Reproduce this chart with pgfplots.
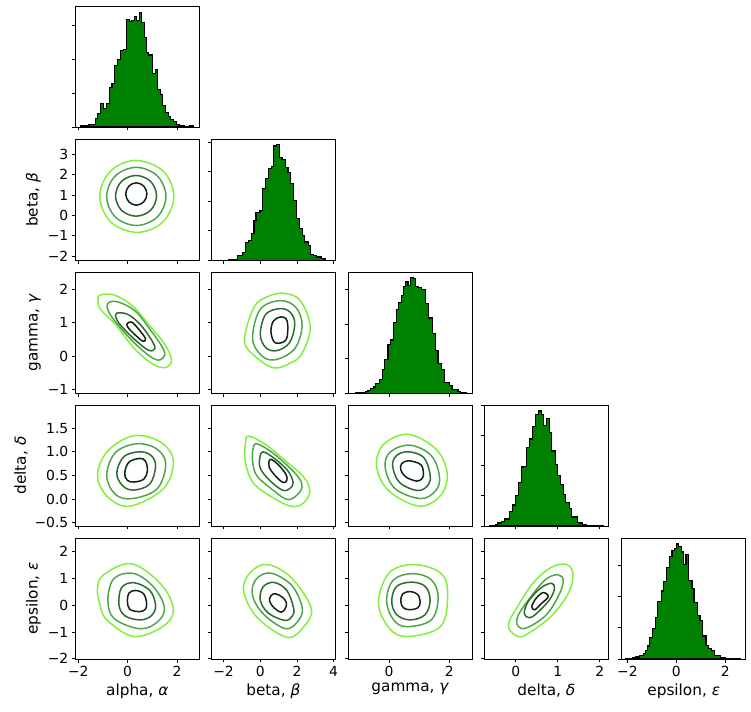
\documentclass[border=0pt]{standalone}
\usepackage{fontspec}
\setmainfont{DejaVu Sans}
\usepackage{pgfplots}
\pgfplotsset{compat=1.18}
\definecolor{hgreen}{HTML}{008000}
\definecolor{cA}{HTML}{80F03C}
\definecolor{cB}{HTML}{4EA64A}
\definecolor{cC}{HTML}{2E6B2E}
\definecolor{cD}{HTML}{0D240D}
\pgfplotsset{
 corner/.style={scale only axis,width=124pt,height=121pt,anchor=north west,
   axis line style={line width=0.9pt},
   tick align=outside, major tick length=3.5pt,
   every tick/.append style={line width=0.9pt,black},
   tick pos=left,
   xticklabels={}, yticklabels={},
   tick label style={font=\fontsize{13.9}{16}\selectfont},
   label style={font=\fontsize{15.3}{18}\selectfont},
 },
 hist/.style={const plot, fill=hgreen, draw=black, line width=1.2pt},
 c1/.style={smooth cycle, tension=0.6, color=cA, line width=1.5pt},
 c2/.style={smooth cycle, tension=0.6, color=cB, line width=1.5pt},
 c3/.style={smooth cycle, tension=0.6, color=cC, line width=1.5pt},
 c4/.style={smooth cycle, tension=0.6, color=cD, line width=1.5pt},
 xA/.style={xmin=-2.12,xmax=2.9,xtick={-2,0,2}},
 xB/.style={xmin=-2.67,xmax=4.09,xtick={-2,0,2,4}},
 xG/.style={xmin=-1.35,xmax=2.76,xtick={0,2}},
 xD/.style={xmin=-0.75,xmax=2.2,xtick={0,1,2}},
 xE/.style={xmin=-2.23,xmax=2.83,xtick={-2,0,2}},
 yB/.style={ymin=-2.21,ymax=3.74,ytick={-2,-1,0,1,2,3}},
 yG/.style={ymin=-1.12,ymax=2.51,ytick={-1,0,1,2}},
 yD/.style={ymin=-0.57,ymax=1.99,ytick={-0.5,0,0.5,1,1.5}},
 yE/.style={ymin=-2.01,ymax=2.51,ytick={-2,-1,0,1,2}},
}
\begin{document}
\begin{tikzpicture}
\path[use as bounding box] (0,0) rectangle (751pt,711pt);
% ---------- row 1
\begin{axis}[corner,at={(75.3pt,705pt)},xA,ymin=0,ymax=3.56,ytick={0,1,2,3}]
\addplot[hist] coordinates {(-1.891,0.04) (-1.568,0.08) (-1.298,0.245) (-1.217,0.40) (-1.110,0.70) (-0.975,0.55) (-0.854,0.70) (-0.733,1.16) (-0.638,1.28) (-0.517,1.81) (-0.409,1.99) (-0.302,2.26) (-0.167,2.28) (-0.046,3.17) (0.062,3.11) (0.156,3.13) (0.264,3.25) (0.372,3.14) (0.480,3.37) (0.560,3.07) (0.668,2.63) (0.762,2.19) (0.857,2.12) (0.991,1.57) (1.113,1.68) (1.220,1.11) (1.328,0.96) (1.422,0.64) (1.530,0.42) (1.638,0.30) (1.745,0.23) (1.853,0.15) (1.961,0.08) (2.082,0.05) (2.311,0) (2.500,0.03) (2.661,0.03)} \closedcycle;
\end{axis}
% ---------- row 2
\begin{axis}[corner,at={(75.3pt,571.7pt)},xA,yB,yticklabels={−2,−1,0,1,2,3},ylabel={beta, \textit{β}}]
\addplot[c1] coordinates {(1.87,0.93) (1.43,2.18) (0.32,2.70) (-0.69,2.18) (-1.13,0.95) (-0.69,-0.32) (0.39,-0.84) (1.43,-0.32)};
\addplot[c2] coordinates {(1.55,0.93) (1.20,1.94) (0.35,2.36) (-0.50,1.94) (-0.85,0.93) (-0.50,-0.08) (0.35,-0.50) (1.20,-0.08)};
\addplot[c3] coordinates {(1.17,0.96) (0.93,1.67) (0.34,1.96) (-0.25,1.67) (-0.49,0.96) (-0.25,0.25) (0.34,-0.04) (0.93,0.25)};
\addplot[c4] coordinates {(0.78,1.05) (0.65,1.44) (0.35,1.60) (0.05,1.44) (-0.08,1.05) (0.05,0.66) (0.35,0.50) (0.65,0.66)};
\end{axis}
\begin{axis}[corner,at={(211.3pt,571.7pt)},xB,ymin=0,ymax=4.1,ytick={0,1,2,3,4}]
\addplot[hist] coordinates {(-1.735,0.03) (-1.224,0.15) (-0.968,0.26) (-0.785,0.59) (-0.639,0.66) (-0.493,0.92) (-0.347,1.36) (-0.238,1.62) (-0.018,1.70) (0.128,2.44) (0.274,2.78) (0.457,3.12) (0.603,3.17) (0.712,3.87) (0.895,3.91) (1.041,3.47) (1.187,3.41) (1.370,3.15) (1.516,2.98) (1.662,2.59) (1.808,2.02) (1.991,1.42) (2.137,1.08) (2.283,0.85) (2.429,0.62) (2.612,0.49) (2.758,0.20) (2.904,0.15) (3.050,0.11) (3.342,0.06) (3.525,0.06)} \closedcycle;
\end{axis}
% ---------- row 3
\begin{axis}[corner,at={(75.3pt,438.7pt)},xA,yG,yticklabels={−1,0,1,2},ylabel={gamma, \textit{γ}}]
\addplot[c1] coordinates {(-1.10,1.83) (-0.55,1.83) (0.20,1.50) (0.90,0.90) (1.50,0.35) (1.77,-0.10) (1.60,-0.33) (1.10,-0.28) (0.30,0.20) (-0.50,0.95) (-1.10,1.40) (-1.20,1.70)};
\addplot[c2] coordinates {(-0.80,1.58) (-0.40,1.62) (0.30,1.35) (0.95,0.75) (1.45,0.20) (1.45,-0.05) (1.10,-0.10) (0.40,0.30) (-0.30,0.85) (-0.75,1.30)};
\addplot[c3] coordinates {(-0.45,1.28) (0.00,1.25) (0.50,0.95) (0.95,0.50) (1.10,0.22) (0.85,0.17) (0.35,0.45) (-0.20,0.85) (-0.45,1.10)};
\addplot[c4] coordinates {(-0.03,0.95) (0.15,1.02) (0.45,0.80) (0.72,0.52) (0.62,0.44) (0.35,0.60) (0.05,0.82)};
\end{axis}
\begin{axis}[corner,at={(211.3pt,438.7pt)},xB,yG]
\addplot[c1] coordinates {(2.72,0.85) (2.20,1.65) (1.30,1.88) (0.40,1.78) (-0.35,1.45) (-0.86,0.45) (-0.20,-0.05) (0.75,-0.36) (1.60,-0.22) (2.25,0.05)};
\addplot[c2] coordinates {(2.28,0.90) (1.95,1.45) (1.10,1.66) (0.0,1.40) (-0.42,0.55) (0.0,0.05) (0.75,-0.12) (1.85,0.20)};
\addplot[c3] coordinates {(1.88,0.95) (1.65,1.30) (1.10,1.42) (0.30,1.25) (0.0,0.65) (0.30,0.25) (0.90,0.16) (1.60,0.40)};
\addplot[c4] coordinates {(1.50,0.90) (1.40,1.12) (1.10,1.17) (0.72,1.05) (0.58,0.75) (0.72,0.45) (1.00,0.38) (1.42,0.50)};
\end{axis}
\begin{axis}[corner,at={(348.3pt,438.7pt)},xG,ymin=0,ymax=3.49,ytick={0,1,2,3}]
\addplot[hist] coordinates {(-1.094,0.03) (-0.873,0.03) (-0.784,0.06) (-0.696,0.09) (-0.608,0.13) (-0.519,0.18) (-0.453,0.28) (-0.320,0.40) (-0.210,0.69) (-0.144,0.98) (-0.033,1.40) (0.055,1.54) (0.144,2.04) (0.254,2.42) (0.321,2.63) (0.409,2.81) (0.475,3.08) (0.542,3.21) (0.630,3.12) (0.718,3.33) (0.807,3.31) (0.873,3.07) (0.961,3.04) (1.072,3.00) (1.205,2.59) (1.315,2.17) (1.448,1.72) (1.536,1.24) (1.624,0.86) (1.735,0.69) (1.845,0.30) (2.000,0.23) (2.089,0.12) (2.287,0.06) (2.376,0.03) (2.575,0.03)} \closedcycle;
\end{axis}
% ---------- row 4
\begin{axis}[corner,at={(75.3pt,306pt)},xA,yD,yticklabels={−0.5,0.0,0.5,1.0,1.5},ylabel={delta, \textit{δ}}]
\addplot[c1] coordinates {(1.85,0.80) (1.35,1.20) (0.25,1.34) (-0.80,1.02) (-1.22,0.50) (-0.80,0.04) (0.10,-0.15) (1.45,0.22)};
\addplot[c2] coordinates {(1.54,0.75) (1.15,1.07) (0.35,1.17) (-0.50,0.98) (-0.85,0.50) (-0.50,0.10) (0.20,0.01) (1.20,0.22)};
\addplot[c3] coordinates {(1.13,0.70) (0.95,0.92) (0.50,1.00) (-0.15,0.90) (-0.44,0.55) (-0.20,0.28) (0.25,0.19) (0.90,0.32)};
\addplot[c4] coordinates {(0.80,0.60) (0.72,0.80) (0.50,0.86) (0.05,0.78) (-0.12,0.55) (-0.02,0.40) (0.25,0.36) (0.65,0.42)};
\end{axis}
\begin{axis}[corner,at={(211.3pt,306pt)},xB,yD]
\addplot[c1] coordinates {(-0.62,1.33) (0.30,1.15) (1.40,0.80) (2.40,0.45) (2.70,0.15) (2.30,-0.10) (1.64,-0.15) (0.60,0.05) (-0.40,0.35) (-0.82,0.80) (-0.80,1.20)};
\addplot[c2] coordinates {(-0.20,1.17) (0.60,1.00) (1.50,0.70) (2.10,0.45) (2.28,0.25) (1.90,0.05) (1.40,0.00) (0.50,0.25) (-0.20,0.50) (-0.42,0.80) (-0.40,1.05)};
\addplot[c3] coordinates {(0.15,1.00) (0.80,0.85) (1.50,0.60) (1.79,0.35) (1.60,0.22) (1.20,0.19) (0.50,0.40) (0.00,0.65) (-0.02,0.88)};
\addplot[c4] coordinates {(0.55,0.84) (1.00,0.72) (1.40,0.52) (1.45,0.40) (1.25,0.35) (0.85,0.48) (0.48,0.68)};
\end{axis}
\begin{axis}[corner,at={(348.3pt,306pt)},xG,yD]
\addplot[c1] coordinates {(1.93,0.52) (1.58,1.04) (0.64,1.37) (-0.19,1.15) (-0.41,0.68) (0.0,0.17) (1.00,-0.15) (1.70,0.07)};
\addplot[c2] coordinates {(1.67,0.48) (1.40,0.92) (0.70,1.14) (0.05,1.00) (-0.13,0.68) (0.20,0.22) (1.05,0.01) (1.55,0.18)};
\addplot[c3] coordinates {(1.36,0.52) (1.15,0.88) (0.64,1.00) (0.25,0.92) (0.12,0.70) (0.35,0.35) (0.95,0.18) (1.30,0.30)};
\addplot[c4] coordinates {(1.14,0.55) (1.05,0.73) (0.65,0.81) (0.42,0.75) (0.39,0.62) (0.55,0.47) (0.92,0.38) (1.10,0.44)};
\end{axis}
\begin{axis}[corner,at={(484.3pt,306pt)},xD,ymin=0,ymax=4.02,ytick={0,1,2,3,4}]
\addplot[hist] coordinates {(-0.619,0.02) (-0.492,0.055) (-0.429,0.10) (-0.349,0.14) (-0.270,0.23) (-0.143,0.48) (-0.079,0.70) (-0.016,1.01) (0.063,1.45) (0.127,1.96) (0.190,1.98) (0.254,2.60) (0.317,2.89) (0.397,3.31) (0.460,3.71) (0.540,3.82) (0.603,3.71) (0.667,3.33) (0.730,3.58) (0.794,3.11) (0.857,2.49) (0.936,2.03) (1.000,1.69) (1.063,1.38) (1.127,1.05) (1.190,0.79) (1.270,0.59) (1.333,0.30) (1.460,0.12) (1.524,0.10) (1.587,0.055) (1.667,0.02) (1.746,0) (1.857,0.02) (1.921,0) (2.016,0.02) (2.079,0.02)} \closedcycle;
\end{axis}
% ---------- row 5
\begin{axis}[corner,at={(75.3pt,173pt)},xA,yE,xticklabels={−2,0,2},yticklabels={−2,−1,0,1,2},xlabel={alpha, \textit{α}},ylabel={epsilon, \textit{ε}}]
\addplot[c1] coordinates {(1.85,-0.14) (1.33,0.80) (0.15,1.55) (-0.95,1.15) (-1.22,0.65) (-1.12,0.0) (-0.82,-0.57) (0.26,-1.17) (1.45,-0.78)};
\addplot[c2] coordinates {(1.49,-0.10) (1.06,0.67) (0.26,1.18) (-0.55,1.00) (-0.80,0.20) (-0.55,-0.50) (0.50,-0.88) (1.20,-0.63)};
\addplot[c3] coordinates {(1.13,-0.02) (0.90,0.55) (0.25,0.84) (-0.25,0.65) (-0.35,0.0) (-0.10,-0.40) (0.50,-0.55) (0.95,-0.40)};
\addplot[c4] coordinates {(0.77,0.05) (0.65,0.42) (0.32,0.55) (0.05,0.45) (-0.01,0.15) (0.08,-0.15) (0.45,-0.24) (0.70,-0.17)};
\end{axis}
\begin{axis}[corner,at={(211.3pt,173pt)},xB,yE,xticklabels={−2,0,2,4},xlabel={beta, \textit{β}}]
\addplot[c1] coordinates {(2.78,-0.12) (1.70,1.02) (0.40,1.52) (-0.55,1.22) (-0.91,0.55) (-0.18,-0.45) (1.45,-1.20) (2.35,-0.82)};
\addplot[c2] coordinates {(2.28,-0.07) (1.70,0.75) (0.55,1.20) (-0.25,0.95) (-0.42,0.35) (0.20,-0.35) (1.40,-0.88) (2.10,-0.55)};
\addplot[c3] coordinates {(1.82,-0.12) (1.45,0.55) (0.75,0.85) (0.15,0.68) (0.0,0.18) (0.45,-0.30) (1.35,-0.57) (1.75,-0.40)};
\addplot[c4] coordinates {(1.42,0.10) (1.20,0.30) (0.82,0.43) (0.58,0.35) (0.51,0.15) (0.75,-0.10) (1.15,-0.26) (1.38,-0.10)};
\end{axis}
\begin{axis}[corner,at={(348.3pt,173pt)},xG,yE,xticklabels={0,2},xlabel={gamma, \textit{γ}}]
\addplot[c1] coordinates {(1.94,0.50) (1.69,1.22) (0.80,1.52) (0.0,1.20) (-0.35,0.10) (0.0,-0.85) (0.60,-1.17) (1.72,-0.78)};
\addplot[c2] coordinates {(1.63,0.30) (1.40,0.95) (0.80,1.18) (0.15,0.95) (-0.08,0.18) (0.15,-0.55) (0.60,-0.80) (1.40,-0.55)};
\addplot[c3] coordinates {(1.36,0.20) (1.20,0.70) (0.75,0.86) (0.25,0.70) (0.09,0.15) (0.25,-0.35) (0.70,-0.55) (1.20,-0.35)};
\addplot[c4] coordinates {(1.03,0.10) (0.95,0.40) (0.70,0.51) (0.45,0.42) (0.39,0.13) (0.48,-0.10) (0.70,-0.17) (0.95,-0.10)};
\end{axis}
\begin{axis}[corner,at={(484.3pt,173pt)},xD,yE,xticklabels={0,1,2},xlabel={delta, \textit{δ}}]
\addplot[c1] coordinates {(1.21,1.52) (1.36,1.15) (1.25,0.45) (0.85,-0.40) (0.30,-1.05) (0.05,-1.17) (-0.18,-0.75) (0.10,0.10) (0.45,0.90) (0.85,1.42)};
\addplot[c2] coordinates {(1.00,1.14) (1.13,0.90) (1.00,0.30) (0.70,-0.40) (0.25,-0.85) (0.05,-0.78) (0.05,-0.40) (0.35,0.30) (0.70,0.95)};
\addplot[c3] coordinates {(0.85,0.82) (0.92,0.62) (0.80,0.20) (0.50,-0.30) (0.32,-0.47) (0.20,-0.30) (0.30,0.15) (0.60,0.65)};
\addplot[c4] coordinates {(0.65,0.47) (0.77,0.32) (0.60,0.05) (0.45,-0.17) (0.38,-0.05) (0.48,0.25)};
\end{axis}
\begin{axis}[corner,at={(621.7pt,173pt)},xE,ymin=0,ymax=3.88,ytick={0,1,2,3},xticklabels={−2,0,2},xlabel={epsilon, \textit{ε}}]
\addplot[hist] coordinates {(-2.067,0.02) (-1.903,0) (-1.793,0.03) (-1.657,0.065) (-1.493,0.12) (-1.356,0.18) (-1.247,0.28) (-1.165,0.42) (-1.083,0.69) (-0.974,0.98) (-0.865,1.32) (-0.755,1.84) (-0.619,2.18) (-0.509,2.48) (-0.400,2.94) (-0.291,3.28) (-0.181,3.47) (-0.072,3.54) (0.010,3.69) (0.092,3.62) (0.201,3.43) (0.283,3.02) (0.392,3.34) (0.502,2.51) (0.638,2.25) (0.720,1.82) (0.857,1.39) (0.966,1.24) (1.075,0.74) (1.212,0.44) (1.321,0.33) (1.431,0.27) (1.567,0.12) (1.786,0.05) (2.004,0.02) (2.168,0) (2.414,0.02) (2.605,0.02)} \closedcycle;
\end{axis}
\end{tikzpicture}
\end{document}
